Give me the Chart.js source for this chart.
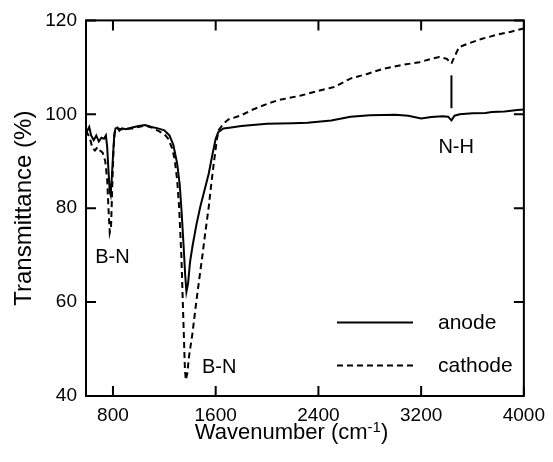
<!DOCTYPE html>
<html>
<head>
<meta charset="utf-8">
<script src="https://cdn.jsdelivr.net/npm/chart.js@4"></script>
<style>
html,body{margin:0;padding:0;background:#fff;}
#wrap{width:553px;height:462px;}
</style>
</head>
<body>
<div id="wrap"><canvas id="c" width="553" height="462"></canvas></div>
<script>
// ---- data ----
const anodeX = [590,600,615,630,650,670,690,710,730,745,755,765,775,782,790,800,810,820,835,850,870,900,950,1000,1050,1100,1150,1200,1240,1270,1300,1320,1335,1350,1362,1372,1385,1400,1420,1450,1480,1510,1546,1575,1600,1620,1660,1720,1800,2000,2200,2315,2500,2650,2800,3000,3100,3200,3280,3367,3410,3436,3460,3500,3600,3700,3751,3850,3950,4000];
const anodeY = [96.0,96.5,97.3,95.5,94.5,95.5,94.2,95.0,94.8,95.5,93.0,88.0,83.5,82.8,86.0,91.0,95.5,97.0,97.2,96.5,97.0,96.8,97.2,97.5,97.7,97.3,97.0,96.6,95.5,93.5,89.5,85.0,79.0,72.0,66.0,62.2,64.0,68.5,72.0,76.5,80.3,83.5,87.4,91.5,94.8,96.2,97.0,97.2,97.5,98.0,98.1,98.2,98.7,99.5,99.8,99.9,99.7,99.1,99.4,99.6,99.5,98.7,99.7,100.0,100.2,100.3,100.5,100.6,100.9,101.0];
const cathodeX = [590,600,620,640,660,680,700,720,740,755,765,775,785,795,805,815,830,870,950,1050,1100,1150,1200,1230,1260,1280,1300,1315,1333,1349,1360,1367,1380,1392,1420,1444,1470,1495,1520,1546,1565,1585,1610,1623,1660,1700,1800,1879,2008,2085,2264,2400,2521,2649,2780,2905,3050,3187,3280,3341,3400,3436,3455,3495,3580,3675,3800,3900,4000];
const cathodeY = [95.5,96.0,95.0,92.8,92.3,93.0,92.3,91.8,90.0,86.0,80.0,74.8,76.0,85.0,93.0,96.5,97.0,96.8,97.0,97.6,97.2,96.5,95.8,94.8,92.8,90.5,86.0,80.3,69.6,55.5,46.0,43.4,45.0,48.4,53.5,59.0,64.5,69.6,75.0,80.3,85.0,89.5,94.8,96.6,98.0,98.9,99.8,100.9,102.3,103.0,104.0,105.0,105.8,107.6,108.6,109.7,110.5,111.1,111.8,112.2,111.8,110.8,112.0,114.3,115.2,116.1,117.0,117.6,118.3];
const xTicks = [800,1600,2400,3200,4000];
const yTicks = [40,60,80,100,120];
const seriesNames = ['anode','cathode'];
const noteTexts = ['B-N','B-N','N-H'];
const noteX = [796,1627,3473];
const noteY = [68.3,44.9,91.8];
const markerX = [3436];
const markerY0 = [101.3];
const markerY1 = [108.3];

const FONT = '"Liberation Sans", Arial, Helvetica, sans-serif';

const decor = {
  id: 'decor',
  afterDraw(chart) {
    const {ctx, chartArea: a, scales: {x, y}} = chart;
    ctx.save();
    ctx.strokeStyle = '#000';
    ctx.fillStyle = '#000';
    ctx.lineWidth = 2;
    ctx.strokeRect(a.left, a.top, a.right - a.left, a.bottom - a.top);
    ctx.beginPath();
    x.ticks.forEach(t => {
      const px = x.getPixelForValue(t.value);
      ctx.moveTo(px, a.bottom); ctx.lineTo(px, a.bottom - 10);
      ctx.moveTo(px, a.top); ctx.lineTo(px, a.top + 10);
    });
    y.ticks.forEach(t => {
      const py = y.getPixelForValue(t.value);
      ctx.moveTo(a.left, py); ctx.lineTo(a.left + 10, py);
      ctx.moveTo(a.right, py); ctx.lineTo(a.right - 10, py);
    });
    ctx.stroke();

    // N-H marker
    ctx.beginPath();
    markerX.forEach((v, i) => {
      const px = x.getPixelForValue(v);
      ctx.moveTo(px, y.getPixelForValue(markerY0[i]));
      ctx.lineTo(px, y.getPixelForValue(markerY1[i]));
    });
    ctx.stroke();

    // annotations
    ctx.font = '20px ' + FONT;
    ctx.textAlign = 'center';
    ctx.textBaseline = 'alphabetic';
    noteTexts.forEach((t, i) => {
      ctx.fillText(t, x.getPixelForValue(noteX[i]), y.getPixelForValue(noteY[i]));
    });

    // legend
    const lx0 = a.left + 251, lx1 = a.left + 327, tx = a.left + 352;
    const rows = [a.top + 302, a.top + 345];
    chart.data.datasets.forEach((ds, i) => {
      ctx.beginPath();
      ctx.setLineDash(ds.borderDash || []);
      ctx.lineWidth = 2;
      ctx.moveTo(lx0, rows[i]); ctx.lineTo(lx1, rows[i]);
      ctx.stroke();
      ctx.setLineDash([]);
      ctx.font = '21px ' + FONT;
      ctx.textAlign = 'left';
      ctx.fillText(ds.label, tx, rows[i] + 7);
    });

    // x axis title with superscript
    const base = a.bottom + 43;
    const p1 = 'Wavenumber (cm', sup = '-1', p2 = ')';
    ctx.font = '22px ' + FONT;
    const w1 = ctx.measureText(p1).width, w3 = ctx.measureText(p2).width;
    ctx.font = '15px ' + FONT;
    const w2 = ctx.measureText(sup).width;
    let sx = 291.5 - (w1 + w2 + w3) / 2;
    ctx.textAlign = 'left';
    ctx.font = '22px ' + FONT;
    ctx.fillText(p1, sx, base);
    ctx.font = '15px ' + FONT;
    ctx.fillText(sup, sx + w1, base - 7);
    ctx.font = '22px ' + FONT;
    ctx.fillText(p2, sx + w1 + w2, base);
    ctx.restore();
  }
};

new Chart(document.getElementById('c'), {
  type: 'line',
  data: {
    datasets: [
      {
        label: seriesNames[0],
        data: anodeX.map((v, i) => ({x: v, y: anodeY[i]})),
        borderColor: '#000', borderWidth: 2, pointRadius: 0, tension: 0, fill: false
      },
      {
        label: seriesNames[1],
        data: cathodeX.map((v, i) => ({x: v, y: cathodeY[i]})),
        borderColor: '#000', borderWidth: 2, borderDash: [6, 4], pointRadius: 0, tension: 0, fill: false
      }
    ]
  },
  options: {
    responsive: false,
    animation: false,
    layout: {padding: {top: 20, right: 24, left: 0, bottom: 0}},
    plugins: {legend: {display: false}, tooltip: {enabled: false}},
    scales: {
      x: {
        type: 'linear', min: 590, max: 4000,
        afterBuildTicks: s => { s.ticks = xTicks.map(v => ({value: v})); },
        afterFit: s => { s.height = 66; },
        grid: {display: false, drawTicks: false},
        border: {display: false},
        ticks: {color: '#000', font: {family: FONT, size: 19}, padding: 8, maxRotation: 0, autoSkip: false,
                callback: v => String(v)}
      },
      y: {
        type: 'linear', min: 40, max: 120,
        afterBuildTicks: s => { s.ticks = yTicks.map(v => ({value: v})); },
        afterFit: s => { s.width = 86; },
        grid: {display: false, drawTicks: false},
        border: {display: false},
        title: {display: true, text: 'Transmittance (%)', color: '#000', font: {family: FONT, size: 24}, padding: {top: 10, bottom: 0}},
        ticks: {color: '#000', font: {family: FONT, size: 19}, padding: 9, callback: v => String(v)}
      }
    }
  },
  plugins: [decor]
});
</script>
</body>
</html>
